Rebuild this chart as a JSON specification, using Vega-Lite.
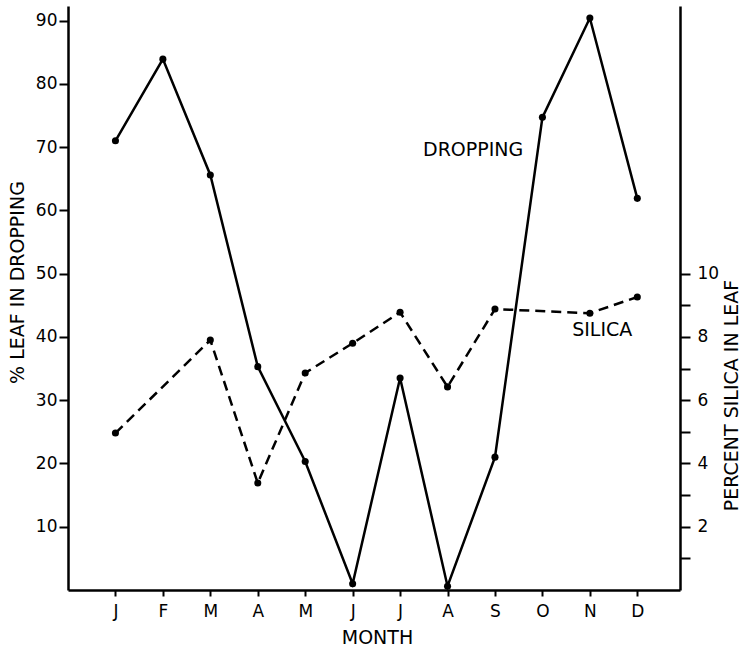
{
  "$schema": "https://vega.github.io/schema/vega-lite/v6.json",
  "width": 612,
  "height": 584,
  "autosize": {"type": "none"},
  "padding": {"left": 68, "top": 6, "right": 63, "bottom": 58},
  "background": "white",
  "config": {
    "view": {"stroke": null},
    "font": "DejaVu Sans",
    "axis": {
      "domainColor": "black", "domainWidth": 2.5,
      "tickColor": "black", "tickWidth": 2,
      "labelColor": "black", "titleColor": "black",
      "labelFont": "DejaVu Sans", "titleFont": "DejaVu Sans",
      "labelFontSize": 17, "titleFontSize": 19,
      "titleFontWeight": "normal", "grid": false,
      "labelOverlap": false, "labelFlush": false
    }
  },
  "datasets": {
    "dropping": [
      {"month": 1, "pct": 71.0}, {"month": 2, "pct": 83.9}, {"month": 3, "pct": 65.6},
      {"month": 4, "pct": 35.3}, {"month": 5, "pct": 20.3}, {"month": 6, "pct": 1.0},
      {"month": 7, "pct": 33.5}, {"month": 8, "pct": 0.6}, {"month": 9, "pct": 21.0},
      {"month": 10, "pct": 74.7}, {"month": 11, "pct": 90.4}, {"month": 12, "pct": 61.9}
    ],
    "silica": [
      {"month": 1, "silica": 4.96}, {"month": 3, "silica": 7.9}, {"month": 4, "silica": 3.38},
      {"month": 5, "silica": 6.86}, {"month": 6, "silica": 7.8}, {"month": 7, "silica": 8.78},
      {"month": 8, "silica": 6.42}, {"month": 9, "silica": 8.88}, {"month": 11, "silica": 8.75},
      {"month": 12, "silica": 9.26}
    ],
    "labels": [
      {"text": "DROPPING", "month": 8.54, "pct": 69.5},
      {"text": "SILICA", "month": 11.26, "pct": 41.1}
    ]
  },
  "encoding": {
    "x": {
      "field": "month", "type": "quantitative",
      "scale": {"domain": [0, 12.9], "nice": false, "zero": false},
      "axis": {
        "values": [1, 2, 3, 4, 5, 6, 7, 8, 9, 10, 11, 12],
        "labelExpr": "['J','F','M','A','M','J','J','A','S','O','N','D'][datum.value - 1]",
        "tickSize": 6, "labelPadding": 7,
        "title": "MONTH", "titleX": 309, "titleY": 47, "titleBaseline": "middle", "titleAlign": "center"
      }
    }
  },
  "layer": [
    {
      "encoding": {
        "y": {
          "field": "pct", "type": "quantitative",
          "scale": {"domain": [0, 92.3], "nice": false},
          "axis": {
            "orient": "left",
            "values": [10, 20, 30, 40, 50, 60, 70, 80, 90],
            "tickSize": 9, "labelPadding": 2,
            "title": "% LEAF IN DROPPING",
            "titleX": -51, "titleY": 276, "titleAngle": -90,
            "titleBaseline": "middle", "titleAlign": "center"
          }
        }
      },
      "layer": [
        {
          "data": {"name": "dropping"},
          "mark": {"type": "line", "color": "black", "strokeWidth": 2.5}
        },
        {
          "data": {"name": "dropping"},
          "mark": {"type": "point", "filled": true, "color": "black", "size": 50, "opacity": 1}
        },
        {
          "data": {"name": "labels"},
          "mark": {"type": "text", "font": "DejaVu Sans", "fontSize": 19, "color": "black", "align": "center", "baseline": "middle"},
          "encoding": {"text": {"field": "text"}}
        }
      ]
    },
    {
      "data": {"name": "silica"},
      "encoding": {
        "y": {
          "field": "silica", "type": "quantitative",
          "scale": {"domain": [0, 18.46], "nice": false},
          "axis": {
            "orient": "right",
            "values": [1, 2, 3, 4, 5, 6, 7, 8, 9, 10],
            "labelExpr": "datum.value % 2 == 0 ? datum.label : ''",
            "tickSize": 10, "labelPadding": 7,
            "title": "PERCENT SILICA IN LEAF",
            "titleX": 51, "titleY": 389, "titleAngle": -90,
            "titleBaseline": "middle", "titleAlign": "center"
          }
        }
      },
      "layer": [
        {
          "mark": {"type": "line", "color": "black", "strokeWidth": 2.5, "strokeDash": [10, 6]}
        },
        {
          "mark": {"type": "point", "filled": true, "color": "black", "size": 50, "opacity": 1}
        }
      ]
    }
  ],
  "resolve": {"scale": {"y": "independent"}, "axis": {"y": "independent"}}
}
